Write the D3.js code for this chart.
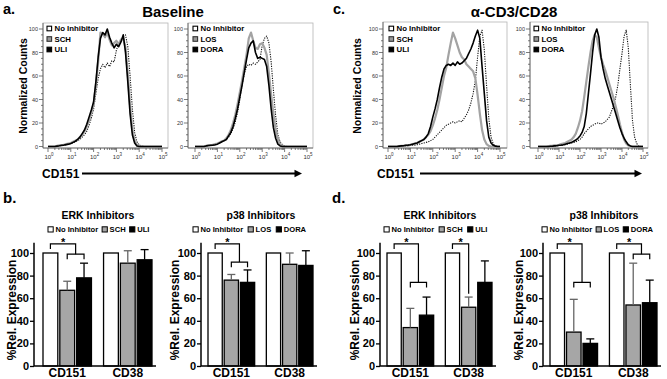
<!DOCTYPE html>
<html>
<head>
<meta charset="utf-8">
<script src="https://cdn.jsdelivr.net/npm/d3@7/dist/d3.min.js"></script>
<style>
html,body{margin:0;padding:0;background:#fff;}
svg{display:block;}
</style>
</head>
<body>
<svg id="chart" width="667" height="379"></svg>
<script>
// ---------------- DATA ----------------
const histLog = [0.0,0.1,0.2,0.3,0.4,0.5,0.6,0.7,0.8,0.9,1.0,1.1,1.2,1.3,1.4,1.5,1.6,1.7,1.8,1.9,2.0,2.1,2.2,2.3,2.4,2.5,2.6,2.7,2.8,2.9,3.0,3.1,3.2,3.3,3.4,3.5,3.6,3.7,3.8,3.9,4.0,4.1,4.2,4.3,4.4,4.5,4.6,4.7,4.8,4.9,5.0];
const histXExponents = [0,1,2,3,4,5];
const histYTicks = [0,20,40,60,80,100];

// a. Baseline, ERK inhibitors
const a_erk_none = [0,0,0,0,0,0.5,1,1,1.5,2,2.5,3,4,5,6,8,10,13,18,24,32,45,58,66,70,67,71,68,73,72,82,88,90,94,95,85,60,32,12,4,1.5,0.5,0,0,0,0,0,0,0,0,0];
const a_erk_SCH  = [0,0,0,0,0.5,1,1,1.5,2,2.5,3,4,5,6,8,10,13,17,22,29,36,52,72,97,96,93,97,91,86,88,90,87,91,92,84,62,35,14,5,1.5,0.5,0,0,0,0,0,0,0,0,0,0];
const a_erk_ULI  = [0,0,0,0,0.3,0.6,1,1.2,1.6,2,2.5,3.5,4.5,6,8,11,14,19,25,31,38,55,76,92,97,95,100,93,88,84,87,85,89,95,80,55,28,10,3,0.5,0,0,0,0,0,0,0,0,0,0,0];
// a. Baseline, p38 inhibitors
const a_p38_none = [0,0,0,0,0,0.3,0.6,1,1.2,1.5,2,3,4,5,6,8,11,15,21,29,40,52,62,68,70,69,71,70,72,74,86,92,94,88,72,48,26,10,4,1.5,0.5,0,0,0,0,0,0,0,0,0,0];
const a_p38_LOS  = [0,0,0,0,0,0.5,1,1,1.5,2,2.5,3.5,4.5,5,7,10,14,20,27,36,46,56,67,78,92,97,90,84,83,87,88,84,78,62,44,28,14,6,2,0.5,0,0,0,0,0,0,0,0,0,0,0];
const a_p38_DORA = [0,0,0,0,0,0.5,0.8,1,1.2,1.5,2,3,4,5,6,9,12,17,24,32,42,52,63,74,84,88,90,80,75,76,75,74,68,52,32,16,7,2,0.5,0,0,0,0,0,0,0,0,0,0,0,0];
// c. anti-CD3/CD28, ERK inhibitors
const c_erk_none = [0,0,0,0,0,0,0.2,0.3,0.5,0.6,0.8,1,1.2,1.5,2,2.5,3,3.5,4,5,6,8,10,12,14,16,18,19,20,21,20,21,22,21,24,27,31,37,45,56,76,94,99,82,52,24,8,2,0.5,0,0];
const c_erk_SCH  = [0,0,0,0,0,0.3,0.5,0.7,1,1,1.5,2,2.5,3,4,5,6,8,10,13,18,24,31,40,50,60,67,78,88,97,92,86,80,76,74,70,68,66,64,58,44,28,14,6,2,0.5,0,0,0,0,0];
const c_erk_ULI  = [0,0,0,0,0,0.3,0.5,0.7,1,1.2,1.5,2,2.5,3,4,5,6,8,11,17,25,32,40,50,59,66,69,70,69,71,69,72,70,71,73,75,79,83,88,94,99,92,68,45,22,8,3,1,0.3,0,0];
// c. anti-CD3/CD28, p38 inhibitors
const c_p38_none = [0,0,0,0,0,0,0.2,0.3,0.5,0.6,0.8,1,1.2,1.5,2,2.5,3,3.5,4,5,6,8,11,13,15,17,18,19,20,20,19,20,21,23,25,30,35,42,52,66,79,94,99,84,52,22,8,2.5,0.5,0,0];
const c_p38_LOS  = [0,0,0,0,0,0.3,0.5,0.7,1,1.2,1.5,2,2.5,3,4,5,6,8,11,16,22,30,42,55,68,80,90,95,93,84,76,70,65,59,53,47,41,34,27,19,12,6,2.5,0.8,0.2,0,0,0,0,0,0];
const c_p38_DORA = [0,0,0,0,0,0,0.2,0.3,0.5,0.7,1,1.2,1.5,2,2.5,3,3.5,4.5,5.5,7,9,12,17,28,45,62,80,95,100,93,76,66,58,52,46,40,34,28,22,16,11,7,4,1.5,0.5,0,0,0,0,0,0];

const barCategories = ["CD151","CD38"];
const erkSeries = ["No Inhibitor","SCH","ULI"];
const p38Series = ["No Inhibitor","LOS","DORA"];
const barYTicks = [0,20,40,60,80,100];
const b_erk_mean = [[100,67,78],[100,91,94]];
const b_erk_sem  = [[0,8,13],[0,11,9]];
const b_p38_mean = [[100,76,74],[100,90,89]];
const b_p38_sem  = [[0,5,11],[0,10,13]];
const d_erk_mean = [[100,34,45],[100,52,74]];
const d_erk_sem  = [[0,17,16],[0,9,19]];
const d_p38_mean = [[100,30,20],[100,54,56]];
const d_p38_sem  = [[0,29,4],[0,37,20]];
// significance: [category index, compared with ("both" | "second"), lower bracket level]
const b_erk_sig = [[0,"both",99]];
const b_p38_sig = [[0,"both",92]];
const d_erk_sig = [[0,"both",74],[1,"second",64]];
const d_p38_sig = [[0,"both",74],[1,"both",99]];

// ---------------- DRAWING ----------------
const FONT = '"Liberation Sans", Arial, Helvetica, sans-serif';
const svg = d3.select("#chart").style("font-family", FONT);

function txt(x, y, s, size, opts = {}) {
  return svg.append("text").attr("x", x).attr("y", y).text(s)
    .attr("font-size", size).attr("font-weight", opts.weight || "bold")
    .attr("text-anchor", opts.anchor || "start").attr("fill", opts.fill || "#000");
}

// Panel letters and titles
txt(3, 13.5, "a.", 14.5);
txt(333, 13.5, "c.", 14.5);
txt(3, 203, "b.", 15);
txt(332, 203, "d.", 15);
txt(173, 17, "Baseline", 15, {anchor: "middle"});
txt(514, 17, "α-CD3/CD28", 15, {anchor: "middle"});

const curveStyles = [
  {stroke: "#111", width: 1.1, dash: "1.2,1.2"},
  {stroke: "#a3a3a3", width: 2.2, dash: null},
  {stroke: "#000", width: 1.6, dash: null}
];
const markerStyles = [
  {fill: "#fff", stroke: "#000"},
  {fill: "#999", stroke: "#333"},
  {fill: "#000", stroke: "#000"}
];

function histPanel(cfg) {
  const [L, T, R, B] = cfg.frame;
  const xs = d3.scaleLog().domain([1, 1e5]).range([cfg.x0, cfg.x5]);
  const y = d3.scaleLinear().domain([0, 100]).range([146.5, 29]);
  const g = svg.append("g");
  g.append("rect").attr("x", L).attr("y", T).attr("width", R - L).attr("height", B - T)
    .attr("fill", "none").attr("stroke", "#b5b5b5").attr("stroke-width", 0.8);
  const minorY = d3.range(0, 101, 5);
  minorY.forEach(v => {
    const major = v % 20 === 0;
    g.append("line").attr("x1", L - (major ? 4 : 2)).attr("x2", L).attr("y1", y(v)).attr("y2", y(v))
      .attr("stroke", "#444").attr("stroke-width", 0.7);
  });
  histYTicks.forEach(v => {
    g.append("text").attr("x", L - 5).attr("y", y(v) + 2).attr("text-anchor", "end")
      .attr("font-size", 5.5).attr("fill", "#333").text(v);
  });
  xs.ticks().forEach(v => {
    const major = Math.abs(Math.log10(v) - Math.round(Math.log10(v))) < 1e-9;
    g.append("line").attr("x1", xs(v)).attr("x2", xs(v)).attr("y1", B).attr("y2", B + (major ? 4 : 2))
      .attr("stroke", "#444").attr("stroke-width", 0.7);
  });
  histXExponents.forEach(e => {
    const t = g.append("text").attr("x", xs(Math.pow(10, e)) + 1).attr("y", 159)
      .attr("text-anchor", "middle").attr("fill", "#333").attr("font-size", 6);
    t.append("tspan").text("10");
    t.append("tspan").attr("dy", -3).attr("font-size", 4.5).text(e);
  });
  g.append("line").attr("x1", L).attr("x2", L).attr("y1", T).attr("y2", B).attr("stroke", "#555").attr("stroke-width", 0.8);
  g.append("line").attr("x1", L).attr("x2", R).attr("y1", B).attr("y2", B).attr("stroke", "#555").attr("stroke-width", 0.8);
  const line = d3.line().x((d, i) => xs(Math.pow(10, histLog[i]))).y(d => y(d));
  cfg.curves.forEach((c, i) => {
    const st = curveStyles[i];
    g.append("path").datum(c).attr("d", line).attr("fill", "none")
      .attr("stroke", st.stroke).attr("stroke-width", st.width)
      .attr("stroke-linejoin", "round")
      .attr("stroke-dasharray", st.dash);
  });
  const ly = [28.5, 39, 49.5];
  cfg.names.forEach((n, i) => {
    const m = markerStyles[i];
    g.append("rect").attr("x", cfg.legendX).attr("y", ly[i] - 2.3).attr("width", 4.6).attr("height", 4.6)
      .attr("fill", m.fill).attr("stroke", m.stroke).attr("stroke-width", 1.1);
    g.append("text").attr("x", cfg.legendX + 7.5).attr("y", ly[i] + 2.8).attr("font-size", 7.8)
      .attr("font-weight", "bold").text(n);
  });
}

histPanel({frame: [43, 23, 168, 148], x0: 48, x5: 162, legendX: 47, names: erkSeries,
  curves: [a_erk_none, a_erk_SCH, a_erk_ULI]});
histPanel({frame: [188, 23, 313, 148], x0: 195, x5: 307, legendX: 193, names: p38Series,
  curves: [a_p38_none, a_p38_LOS, a_p38_DORA]});
histPanel({frame: [383, 22, 507, 148], x0: 388, x5: 500, legendX: 389, names: erkSeries,
  curves: [c_erk_none, c_erk_SCH, c_erk_ULI]});
histPanel({frame: [530, 22, 648, 148], x0: 538, x5: 643, legendX: 534, names: p38Series,
  curves: [c_p38_none, c_p38_LOS, c_p38_DORA]});

[[27, 86], [361, 86]].forEach(([x, yy]) => {
  svg.append("text").attr("transform", `translate(${x},${yy}) rotate(-90)`).attr("text-anchor", "middle")
    .attr("font-size", 10.5).attr("font-weight", "bold").text("Normalized Counts");
});
[[42, 82, 302], [377, 420, 642]].forEach(([tx, x1, tip]) => {
  txt(tx, 177.5, "CD151", 12);
  svg.append("line").attr("x1", x1).attr("x2", tip - 6).attr("y1", 173.5).attr("y2", 173.5)
    .attr("stroke", "#000").attr("stroke-width", 2);
  svg.append("path").attr("d", `M${tip},173.5 L${tip - 7.5},169.8 L${tip - 7.5},177.2 Z`).attr("fill", "#000");
});

// ---------- bar panels ----------
const barFills = ["#fff", "#a6a6a6", "#000"];
const errColors = ["#000", "#666", "#000"];

function barPanel(cfg) {
  const y = d3.scaleLinear().domain([0, 100]).range([366, 253]);
  const x0 = d3.scaleBand().domain(barCategories).range(cfg.range).paddingInner(0.2);
  const x1 = d3.scaleBand().domain(cfg.series).range([0, x0.bandwidth()]).paddingInner(0.12);
  const g = svg.append("g");
  const cx = (ci, si) => x0(barCategories[ci]) + x1(cfg.series[si]) + x1.bandwidth() / 2;

  g.append("text").attr("x", cfg.titleX).attr("y", 219).attr("text-anchor", "middle")
    .attr("font-size", 10.5).attr("font-weight", "bold").text(cfg.title);
  // legend laid out left to right
  let lx = cfg.legendX;
  cfg.series.forEach((s, i) => {
    g.append("rect").attr("x", lx).attr("y", 226.8).attr("width", 5.2).attr("height", 5.2)
      .attr("fill", barFills[i]).attr("stroke", "#000").attr("stroke-width", 1);
    const t = g.append("text").attr("x", lx + 7.5).attr("y", 232.3).attr("font-size", 7.6)
      .attr("font-weight", "bold").text(s);
    lx = lx + 7.5 + t.node().getComputedTextLength() + cfg.legendGap;
  });

  cfg.means.forEach((row, ci) => {
    row.forEach((v, si) => {
      const x = x0(barCategories[ci]) + x1(cfg.series[si]);
      g.append("rect").attr("x", x).attr("y", y(v)).attr("width", x1.bandwidth()).attr("height", y(0) - y(v))
        .attr("fill", barFills[si]).attr("stroke", "#000").attr("stroke-width", 1.3);
      const e = cfg.sem[ci][si];
      if (e > 0) {
        const c = cx(ci, si);
        g.append("line").attr("x1", c).attr("x2", c).attr("y1", y(v)).attr("y2", y(v + e))
          .attr("stroke", errColors[si]).attr("stroke-width", 1.3);
        g.append("line").attr("x1", c - 4).attr("x2", c + 4).attr("y1", y(v + e)).attr("y2", y(v + e))
          .attr("stroke", errColors[si]).attr("stroke-width", 1.3);
      }
    });
  });

  g.append("line").attr("x1", cfg.ax).attr("x2", cfg.ax).attr("y1", y(0)).attr("y2", y(109))
    .attr("stroke", "#000").attr("stroke-width", 1.5);
  g.append("line").attr("x1", cfg.ax).attr("x2", cfg.range[1] + 4).attr("y1", y(0)).attr("y2", y(0))
    .attr("stroke", "#000").attr("stroke-width", 1.5);
  const ya = d3.axisLeft(y).tickValues(barYTicks).tickSize(4).tickPadding(1);
  const ag = g.append("g").attr("transform", `translate(${cfg.ax},0)`).call(ya);
  ag.select(".domain").remove();
  ag.selectAll("line").attr("stroke-width", 1.3);
  ag.selectAll("text").attr("font-size", 11).attr("font-weight", "bold").attr("font-family", FONT).attr("fill", "#000");
  barCategories.forEach(c => {
    g.append("text").attr("x", x0(c) + x0.bandwidth() / 2).attr("y", 377).attr("text-anchor", "middle")
      .attr("font-size", 12).attr("font-weight", "bold").text(c);
  });
  g.append("text").attr("transform", `translate(${cfg.ylabelX + 4.2},310) rotate(-90)`).attr("text-anchor", "middle")
    .attr("font-size", 12).attr("font-weight", "bold").text("%Rel. Expression");

  const top = 108;
  cfg.sig.forEach(([ci, kind, lvl]) => {
    const xa = cx(ci, 0);
    const xb = kind === "both" ? (cx(ci, 1) + cx(ci, 2)) / 2 : cx(ci, 1);
    const st = sel => sel.attr("stroke", "#000").attr("stroke-width", 1.2).attr("fill", "none");
    st(g.append("path").attr("d", `M${xa},${y(top - 4.5)} L${xa},${y(top)} L${xb},${y(top)} L${xb},${y(lvl)}`));
    if (kind === "both") {
      st(g.append("path").attr("d", `M${cx(ci, 1)},${y(lvl - 4.5)} L${cx(ci, 1)},${y(lvl)} L${cx(ci, 2)},${y(lvl)} L${cx(ci, 2)},${y(lvl - 4.5)}`));
    }
    g.append("text").attr("x", (xa + xb) / 2).attr("y", y(top) + 2).attr("text-anchor", "middle")
      .attr("font-size", 11).attr("font-weight", "bold").text("*");
  });
}

barPanel({ax: 34, range: [43, 152], titleX: 98, title: "ERK Inhibitors", legendX: 48, legendGap: 4, ylabelX: 12,
  series: erkSeries, means: b_erk_mean, sem: b_erk_sem, sig: b_erk_sig});
barPanel({ax: 201, range: [208, 313], titleX: 261, title: "p38 Inhibitors", legendX: 193, legendGap: 5, ylabelX: 175,
  series: p38Series, means: b_p38_mean, sem: b_p38_sem, sig: b_p38_sig});
barPanel({ax: 380, range: [387, 492], titleX: 440, title: "ERK Inhibitors", legendX: 384, legendGap: 5, ylabelX: 355,
  series: erkSeries, means: d_erk_mean, sem: d_erk_sem, sig: d_erk_sig});
barPanel({ax: 543, range: [550, 657], titleX: 604, title: "p38 Inhibitors", legendX: 542, legendGap: 4, ylabelX: 519,
  series: p38Series, means: d_p38_mean, sem: d_p38_sem, sig: d_p38_sig});
</script>
</body>
</html>
